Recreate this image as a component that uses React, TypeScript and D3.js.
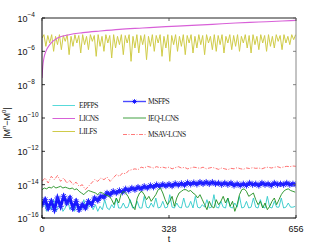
import React from "react";
import * as d3 from "d3";

// log10 of |M^n - M^0|
const licnsT = [0, 2, 5, 10, 20, 40, 70, 106, 150, 200, 260, 320, 374, 440, 500, 560, 620, 656];
const licnsLog = [-7.6, -6.9, -6.4, -6.0, -5.6, -5.2, -5.0, -4.88, -4.78, -4.68, -4.6, -4.52, -4.46, -4.38, -4.3, -4.24, -4.18, -4.14];

const lilfsStep = 5;
const lilfsLog = [
  -5.2, -5.0, -5.7, -5.05, -5.5, -5.0, -6.0, -5.1, -5.6, -5.0,
  -5.9, -5.05, -5.4, -5.0, -6.2, -5.1, -5.7, -5.0, -5.5, -5.05,
  -6.1, -5.0, -5.6, -5.1, -5.9, -5.0, -5.4, -5.05, -6.3, -5.0,
  -5.7, -5.1, -6.0, -5.0, -5.5, -5.05, -6.4, -5.0, -5.8, -5.1,
  -5.6, -5.0, -6.2, -5.05, -5.5, -5.0, -6.6, -5.1, -5.8, -5.0,
  -6.1, -5.05, -5.6, -5.0, -6.5, -5.1, -5.7, -5.0, -6.0, -5.05,
  -5.5, -5.0, -6.3, -5.1, -5.8, -5.0, -6.6, -5.05, -5.6, -5.0,
  -6.0, -5.1, -5.7, -5.0, -6.2, -5.05, -5.5, -5.0, -6.1, -5.1,
  -5.8, -5.0, -5.6, -5.05, -6.2, -5.0, -5.5, -5.1, -5.9, -5.0,
  -6.0, -5.05, -5.6, -5.0, -6.1, -5.1, -5.5, -5.0, -5.9, -5.05,
  -5.7, -5.0, -6.0, -5.1, -5.5, -5.0, -5.8, -5.05, -6.1, -5.0,
  -5.6, -5.1, -5.9, -5.0, -5.5, -5.05, -6.0, -5.0, -5.7, -5.1,
  -5.8, -5.0, -5.4, -5.05, -5.9, -5.0, -5.5, -5.1, -5.6, -5.0,
  -5.3, -5.0,
];

const epfpsStep = 6;
const epfpsLog = [
  -15.4, -15.0, -15.6, -15.2, -15.5, -14.9, -15.6, -15.3, -15.1, -15.6,
  -15.4, -14.9, -15.5, -15.2, -15.6, -15.0, -15.4, -15.5, -14.9, -15.5,
  -15.3, -15.0, -15.5, -15.2, -15.6, -15.3, -15.5, -14.9, -15.4, -15.5,
  -15.2, -15.4, -14.8, -15.4, -15.4, -15.1, -15.4, -15.35, -14.9, -15.4,
  -15.35, -15.0, -15.4, -15.4, -14.7, -15.35, -15.4, -15.1, -15.35, -14.8,
  -15.4, -15.35, -15.0, -15.4, -15.35, -14.6, -15.35, -15.4, -15.1, -15.35,
  -15.4, -14.8, -15.35, -15.35, -15.0, -15.4, -14.7, -15.35, -15.4, -15.2,
  -15.35, -14.9, -15.4, -15.35, -14.6, -15.35, -15.4, -15.0, -15.35, -15.4,
  -14.8, -15.35, -15.4, -15.1, -15.35, -14.7, -15.4, -15.35, -15.0, -15.4,
  -15.35, -14.8, -15.35, -15.4, -14.9, -15.35, -15.4, -14.7, -15.35, -15.4,
  -15.0, -15.35, -15.35, -14.8, -15.4, -15.35, -15.1, -15.35, -15.35, -15.3,
];

const msfpsStep = 8;
const msfpsLog = [
  -15.2, -14.9, -15.4, -15.0, -15.5, -14.8, -15.3, -14.7, -15.1, -14.8,
  -15.4, -15.0, -15.5, -15.2, -15.4, -15.0, -15.2, -14.8, -14.95, -14.7,
  -14.75, -14.5, -14.6, -14.4, -14.5, -14.35, -14.45, -14.25, -14.35, -14.2,
  -14.3, -14.15, -14.25, -14.1, -14.2, -14.05, -14.15, -14.0, -14.1, -13.98,
  -14.08, -13.97, -14.08, -13.93, -14.03, -13.93, -14.03, -13.88, -13.98, -13.88,
  -13.98, -13.85, -13.95, -13.85, -13.95, -13.85, -13.95, -13.9, -14.0, -13.9,
  -14.0, -13.9, -14.05, -13.95, -14.05, -13.95, -14.05, -13.9, -14.0, -13.95,
  -14.05, -13.9, -14.0, -13.95, -14.05, -13.9, -14.0, -13.95, -14.0, -13.9,
  -14.0, -13.95, -14.0,
];

const ieqStep = 6;
const ieqLog = [
  -14.3, -14.2, -14.25, -14.15, -14.2, -14.1, -14.2, -14.15, -14.1, -14.2,
  -14.15, -14.2, -14.25, -14.2, -14.3, -14.25, -14.4, -14.5, -14.6, -14.45,
  -14.35, -14.4, -14.45, -14.5, -14.6, -14.45, -14.5, -14.6, -14.65, -14.7,
  -14.9, -15.2, -14.8, -15.1, -14.6, -14.4, -14.5, -14.7, -15.0, -15.3,
  -15.5, -14.8, -14.5, -14.4, -14.6, -14.9, -14.7, -15.0, -14.8, -14.6,
  -14.3, -14.2, -14.5, -14.9, -15.2, -15.0, -14.7, -15.3, -14.8, -14.5,
  -14.4, -14.3, -14.3, -14.4, -14.35, -14.5, -14.6, -14.8, -14.6, -14.9,
  -15.2, -15.5, -15.0, -15.3, -15.4, -14.9, -15.2, -15.0, -14.7, -15.1,
  -14.8, -15.3, -15.0, -15.6, -15.2, -14.6, -14.3, -14.25, -14.4, -14.7,
  -14.6, -14.5, -14.9, -15.2, -15.0, -15.4, -15.1, -15.5, -15.3, -15.0,
  -14.8, -15.2, -14.9, -14.6, -14.4, -14.3, -14.25, -14.35, -14.4, -14.45,
];

const msavStep = 8;
const msavLog = [
  -13.8, -13.6, -13.9, -13.5, -13.7, -13.45, -13.8, -13.6, -13.9, -13.75,
  -14.0, -13.85, -14.1, -14.0, -14.3, -14.1, -13.9, -13.7, -13.8, -13.6,
  -13.7, -13.55, -13.8, -13.6, -13.4, -13.5, -13.3, -13.35, -13.15, -13.1,
  -13.05, -13.1, -12.95, -13.0, -12.9, -12.95, -13.0, -12.92, -12.98, -12.95,
  -13.0, -12.95, -13.05, -12.98, -12.92, -13.0, -12.96, -13.05, -13.0, -12.95,
  -12.98, -13.02, -12.95, -13.05, -13.0, -12.96, -13.02, -13.08, -13.0, -13.05,
  -13.1, -13.02, -13.05, -12.98, -13.04, -13.08, -13.0, -13.03, -12.98, -13.02,
  -13.0, -13.05, -12.98, -12.95, -13.0, -12.96, -12.92, -12.98, -12.94, -12.9,
  -12.92, -12.88, -12.9,
];

const xTicks = [0, 328, 656];
const yTickExp = [-4, -6, -8, -10, -12, -14, -16];

const W = 327, H = 246;
const L = 42, R = 296, T = 18, B = 218;

type Pt = [number, number];

const stepped = (step: number, logs: number[]): Pt[] =>
  logs.map((v, i) => [Math.min(i * step, 656), Math.pow(10, v)]);

function App() {
  const x = d3.scaleLinear().domain([0, 656]).range([L, R]);
  const y = d3.scaleLog().domain([1e-16, 1e-4]).range([B, T]);
  const line = d3.line<Pt>().x(d => x(d[0])).y(d => y(d[1]));
  const smooth = d3.line<Pt>().x(d => x(d[0])).y(d => y(d[1])).curve(d3.curveMonotoneX);

  const licns: Pt[] = licnsT.map((t, i) => [t, Math.pow(10, licnsLog[i])]);
  const lilfs = stepped(lilfsStep, lilfsLog);
  const epfps = stepped(epfpsStep, epfpsLog);
  const msfps = stepped(msfpsStep, msfpsLog);
  const ieq = stepped(ieqStep, ieqLog);
  const msav = stepped(msavStep, msavLog);

  const star = (cx: number, cy: number, r: number) =>
    `M${cx - r},${cy}L${cx + r},${cy}M${cx},${cy - r}L${cx},${cy + r}` +
    `M${cx - r * 0.7},${cy - r * 0.7}L${cx + r * 0.7},${cy + r * 0.7}` +
    `M${cx - r * 0.7},${cy + r * 0.7}L${cx + r * 0.7},${cy - r * 0.7}`;

  const legend1 = [
    { name: "EPFPS", color: "#45d6d6", y: 105.5 },
    { name: "LICNS", color: "#d24fd2", y: 118.5 },
    { name: "LILFS", color: "#c9c535", y: 131.5 },
  ];
  const legend2 = [
    { name: "MSFPS", color: "#4a4aff", y: 101.5, dash: "", star: true },
    { name: "IEQ-LCNS", color: "#2e962e", y: 118, dash: "" },
    { name: "MSAV-LCNS", color: "#ff6a6a", y: 134.5, dash: "4,1.5,1,1.5" },
  ];

  const sans = "Liberation Sans, Arial, sans-serif";
  const serif = "Liberation Serif, Times New Roman, serif";

  return (
    <svg width={W} height={H} style={{ position: "absolute", left: 0, top: 0 }}>
      <rect width={W} height={H} fill="#fff" />
      <defs>
        <clipPath id="plot">
          <rect x={L} y={T} width={R - L} height={B - T} />
        </clipPath>
      </defs>

      <g clipPath="url(#plot)" fill="none">
        <path d={line(epfps) ?? ""} stroke="#2fcaca" strokeWidth={0.9} />
        <path d={line(lilfs) ?? ""} stroke="#d0cc48" strokeWidth={1} />
        <path d={smooth(licns) ?? ""} stroke="#d860d8" strokeWidth={1.1} />
        <path d={line(msfps) ?? ""} stroke="#1515ff" strokeWidth={3} />
        <path
          d={msfps.map(d => star(x(d[0]), y(d[1]), 3.2)).join("")}
          stroke="#2020ff"
          strokeWidth={0.9}
        />
        <path d={line(ieq) ?? ""} stroke="#1f8f1f" strokeWidth={0.9} />
        <path d={line(msav) ?? ""} stroke="#ff4a4a" strokeWidth={0.8} strokeDasharray="4,1.5,1,1.5" />
      </g>

      {/* frame */}
      <line x1={L} x2={R} y1={T} y2={T} stroke="#222" strokeWidth={1} />
      <line x1={R} x2={R} y1={T} y2={B} stroke="#888" strokeWidth={1} />
      <line x1={L} x2={L} y1={T} y2={B} stroke="#000" strokeWidth={1} />
      <line x1={L} x2={R} y1={B} y2={B} stroke="#000" strokeWidth={1} />

      {yTickExp.map(e => {
        const yy = y(Math.pow(10, e));
        return (
          <g key={e}>
            <line x1={L} x2={L + 3} y1={yy} y2={yy} stroke="#000" strokeWidth={0.8} />
            <line x1={R} x2={R - 3} y1={yy} y2={yy} stroke="#666" strokeWidth={0.8} />
            <text x={17.5} y={yy + 4} fontFamily={sans} fontSize={9} fill="#111">
              10
              <tspan dy={-5} fontSize={6.5}>{"\u2212" + Math.abs(e)}</tspan>
            </text>
          </g>
        );
      })}

      {xTicks.map(t => (
        <g key={t}>
          <line x1={x(t)} x2={x(t)} y1={B} y2={B - 3} stroke="#000" strokeWidth={0.8} />
          <line x1={x(t)} x2={x(t)} y1={T} y2={T + 3} stroke="#444" strokeWidth={0.8} />
          <text x={x(t)} y={232} textAnchor="middle" fontFamily={sans} fontSize={9} fill="#111">
            {t}
          </text>
        </g>
      ))}

      <text x={(L + R) / 2} y={241.5} textAnchor="middle" fontFamily={sans} fontSize={9} fill="#111">
        t
      </text>
      <text
        transform={`translate(10,${(T + B) / 2 + 5}) rotate(-90)`}
        textAnchor="middle"
        fontFamily={sans}
        fontSize={9}
        fill="#111"
      >
        |M
        <tspan dy={-4} fontSize={6}>n</tspan>
        <tspan dy={4}>{"\u2212"}M</tspan>
        <tspan dy={-4} fontSize={6}>0</tspan>
        <tspan dy={4}>|</tspan>
      </text>

      {/* legend */}
      {legend1.map(d => (
        <g key={d.name}>
          <line x1={52.5} x2={75} y1={d.y} y2={d.y} stroke={d.color} strokeWidth={0.9} />
          <text x={79} y={d.y + 2.6} fontFamily={serif} fontSize={7.5} letterSpacing={-0.45} fill="#222">
            {d.name}
          </text>
        </g>
      ))}
      {legend2.map(d => (
        <g key={d.name}>
          <line
            x1={123}
            x2={146}
            y1={d.y}
            y2={d.y}
            stroke={d.color}
            strokeWidth={d.star ? 1.4 : 0.9}
            strokeDasharray={d.dash}
          />
          {d.star && <path d={star(134.5, d.y, 2.4)} stroke="#1010ff" strokeWidth={0.9} />}
          <text x={148} y={d.y + 2.6} fontFamily={serif} fontSize={7.5} letterSpacing={-0.45} fill="#222">
            {d.name}
          </text>
        </g>
      ))}
    </svg>
  );
}

export default App;
